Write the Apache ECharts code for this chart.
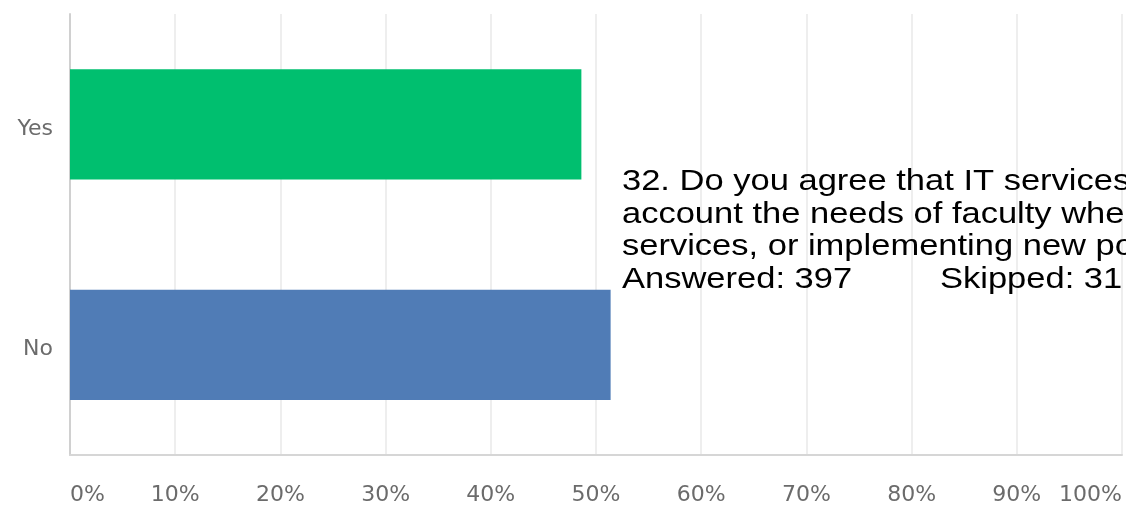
<!DOCTYPE html>
<html>
<head>
<meta charset="utf-8">
<script src="https://cdn.jsdelivr.net/npm/echarts@6/dist/echarts.min.js"></script>
<style>
  html, body { margin: 0; padding: 0; background: #ffffff; }
  #chart { width: 1126px; height: 506px; }
</style>
</head>
<body>
<div id="chart"></div>
<script>
// Survey question 32: share of respondents per answer (percent of 397 answered)
const categories = ['Yes', 'No'];
const shares = [48.61, 51.39];
const barColors = ['#00BF6F', '#507CB6'];
const tickValues = [0, 10, 20, 30, 40, 50, 60, 70, 80, 90, 100];

const questionLines = [
  '32. Do you agree that IT services',
  'account the needs of faculty when',
  'services, or implementing new policies'
];
const answeredCount = 397;
const skippedCount = 31;

const chart = echarts.init(document.getElementById('chart'), null, { renderer: 'canvas' });

const textFont = '30px "Liberation Sans", Arial, sans-serif';
const textX = 622;
const firstTop = 167;
const linePitch = 32.5;
const stretch = 1.15;

function overlayText(text, x, row) {
  return {
    type: 'text',
    x: x,
    y: firstTop + row * linePitch,
    scaleX: stretch,
    z: 100,
    style: { text: text, font: textFont, fill: '#000000', verticalAlign: 'top' }
  };
}

const overlay = questionLines.map((line, i) => overlayText(line, textX, i));
overlay.push(overlayText('Answered: ' + answeredCount, textX, questionLines.length));
overlay.push(overlayText('Skipped: ' + skippedCount, 940, questionLines.length));

chart.setOption({
  animation: false,
  backgroundColor: '#ffffff',
  grid: { left: 70, right: 4, top: 14, bottom: 51, containLabel: false },
  xAxis: {
    type: 'value',
    min: tickValues[0],
    max: tickValues[tickValues.length - 1],
    interval: tickValues[1] - tickValues[0],
    axisLine: { show: true, lineStyle: { color: '#d6d6d6', width: 2 } },
    axisTick: { show: false },
    splitLine: { show: true, lineStyle: { color: '#e8e8e8', width: 1.5 } },
    axisLabel: {
      formatter: '{value}%',
      color: '#6b6b6b',
      fontFamily: 'DejaVu Sans',
      fontSize: 22,
      margin: 29,
      alignMinLabel: 'left',
      alignMaxLabel: 'right'
    }
  },
  yAxis: {
    type: 'category',
    data: categories,
    inverse: true,
    axisLine: { show: true, lineStyle: { color: '#d0d0d0', width: 2 } },
    axisTick: { show: false },
    splitLine: { show: false },
    axisLabel: {
      margin: 17,
      formatter: '{cat|{value}}',
      rich: {
        cat: {
          color: '#6b6b6b',
          fontFamily: 'DejaVu Sans',
          fontSize: 22,
          padding: [10, 0, 0, 0]
        }
      }
    }
  },
  series: [{
    type: 'bar',
    barWidth: '50%',
    data: shares.map((v, i) => ({ value: v, itemStyle: { color: barColors[i] } }))
  }],
  graphic: overlay
});
</script>
</body>
</html>
